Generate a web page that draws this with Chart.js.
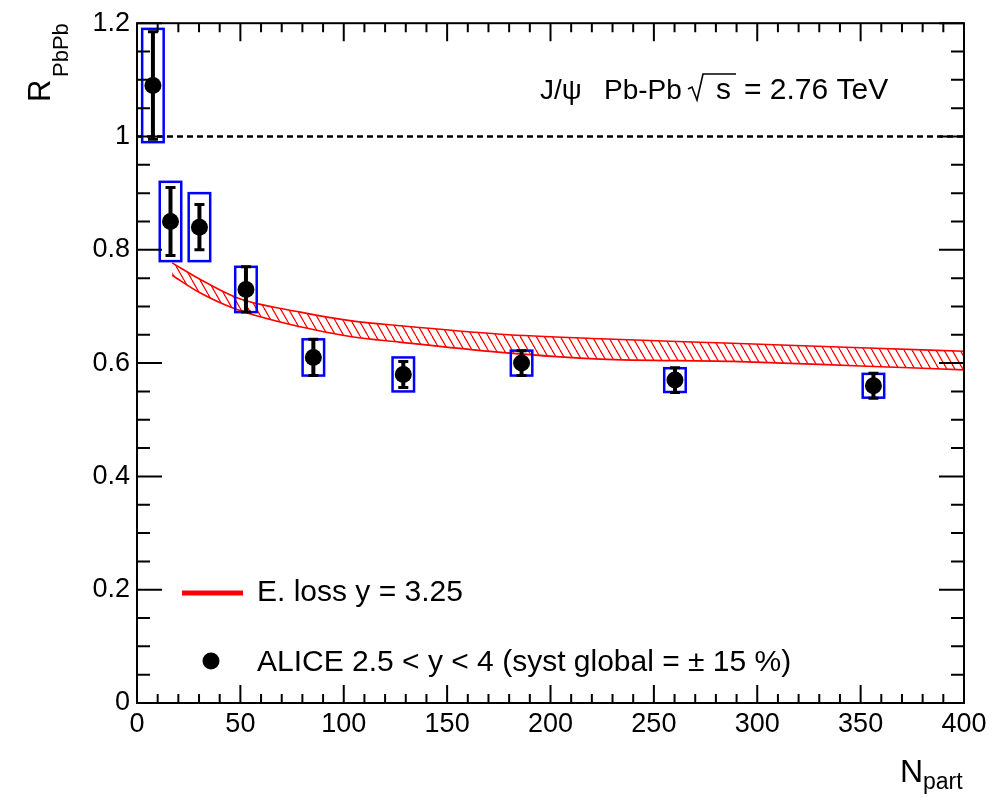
<!DOCTYPE html>
<html lang="en">
<head>
<meta charset="UTF-8">
<title>J/psi R_PbPb vs N_part</title>
<script src="https://cdn.jsdelivr.net/npm/chart.js"></script>
<style>
  body { margin: 0; background: #ffffff; }
  #wrap { width: 1002px; height: 797px; }
</style>
</head>
<body>
<div id="wrap"><canvas id="raaChart" width="1002" height="797"></canvas></div>
<script>
// ALICE J/psi points
const nPart   = [7.7, 16.2, 30.2, 52.7, 85.3, 128.8, 186, 260.2, 356.2];
const rPbPb   = [1.09, 0.85, 0.84, 0.73, 0.61, 0.58, 0.60, 0.57, 0.56];
const statErr = [0.095, 0.06, 0.04, 0.04, 0.032, 0.023, 0.022, 0.022, 0.022];
const systErr = [0.10, 0.07, 0.06, 0.04, 0.032, 0.03, 0.022, 0.021, 0.021];

// E. loss y = 3.25 band
const bandN    = [17, 30, 48, 79, 103, 127, 176, 224, 288, 350, 400];
const bandHigh = [0.777, 0.749, 0.716, 0.690, 0.675, 0.666, 0.651, 0.643, 0.635, 0.627, 0.621];
const bandLow  = [0.755, 0.725, 0.695, 0.664, 0.647, 0.637, 0.619, 0.607, 0.603, 0.595, 0.588];

// axes
const xTicks = [0, 50, 100, 150, 200, 250, 300, 350, 400];
const yTicks = [0, 0.2, 0.4, 0.6, 0.8, 1, 1.2];
const yTickLabels = ['0', '0.2', '0.4', '0.6', '0.8', '1', '1.2'];

const BOX_HALF = 5.2; // half width of syst boxes in N_part units
const FONT = '"Liberation Sans", Arial, sans-serif';

// diagonal red hatch for the band
function makeHatch() {
    const c = document.createElement('canvas');
    c.width = 8; c.height = 14;
    const g = c.getContext('2d');
    g.strokeStyle = '#ff0000';
    g.lineWidth = 1.2;
    for (const off of [-8, 0, 8]) {
        g.beginPath();
        g.moveTo(off, 0);
        g.lineTo(off + 8, 14);
        g.stroke();
    }
    return g.createPattern(c, 'repeat');
}

// syst boxes + stat error bars, drawn just under the markers
const errorPlugin = {
    id: 'errors',
    afterDatasetDraw(chart, args) {
        if (args.index !== 1) return;
        const ctx = chart.ctx;
        const xs = chart.scales.x, ys = chart.scales.y;
        ctx.save();
        nPart.forEach((n, i) => {
            const x0 = xs.getPixelForValue(n - BOX_HALF);
            const x1 = xs.getPixelForValue(n + BOX_HALF);
            const yt = ys.getPixelForValue(rPbPb[i] + systErr[i]);
            const yb = ys.getPixelForValue(rPbPb[i] - systErr[i]);
            ctx.strokeStyle = '#0000ff';
            ctx.lineWidth = 2.5;
            ctx.strokeRect(x0, yt, x1 - x0, yb - yt);

            const xc = xs.getPixelForValue(n);
            const st = ys.getPixelForValue(rPbPb[i] + statErr[i]);
            const sb = ys.getPixelForValue(rPbPb[i] - statErr[i]);
            ctx.strokeStyle = '#000000';
            ctx.lineWidth = 4;
            ctx.beginPath();
            ctx.moveTo(xc, st); ctx.lineTo(xc, sb);
            ctx.stroke();
            ctx.lineWidth = 3;
            ctx.beginPath();
            ctx.moveTo(xc - 5, st); ctx.lineTo(xc + 5, st);
            ctx.moveTo(xc - 5, sb); ctx.lineTo(xc + 5, sb);
            ctx.stroke();
        });
        ctx.restore();
    }
};

// ROOT style frame, inside ticks, labels and legend
const framePlugin = {
    id: 'frame',
    afterDraw(chart) {
        const ctx = chart.ctx;
        const a = chart.chartArea;
        const xs = chart.scales.x, ys = chart.scales.y;
        ctx.save();
        ctx.strokeStyle = '#000000';
        ctx.lineWidth = 2;
        ctx.strokeRect(a.left, a.top, a.right - a.left, a.bottom - a.top);

        ctx.beginPath();
        for (let v = 0; v <= 400; v += 10) {
            const px = xs.getPixelForValue(v);
            const len = (v % 50 === 0) ? 18 : 9;
            ctx.moveTo(px, a.bottom); ctx.lineTo(px, a.bottom - len);
            ctx.moveTo(px, a.top); ctx.lineTo(px, a.top + len);
        }
        for (let k = 0; k <= 24; k++) {
            const py = ys.getPixelForValue(k * 0.05);
            const len = (k % 4 === 0) ? 25 : 13;
            ctx.moveTo(a.left, py); ctx.lineTo(a.left + len, py);
            ctx.moveTo(a.right, py); ctx.lineTo(a.right - len, py);
        }
        ctx.stroke();

        ctx.fillStyle = '#000000';
        ctx.textBaseline = 'alphabetic';
        ctx.textAlign = 'left';

        // y title
        ctx.save();
        ctx.translate(50, 102);
        ctx.rotate(-Math.PI / 2);
        ctx.font = '31px ' + FONT;
        ctx.fillText('R', 0, 0);
        ctx.font = '22px ' + FONT;
        ctx.fillText('PbPb', 25, 18);
        ctx.restore();

        // x title
        ctx.font = '32px ' + FONT;
        ctx.fillText('N', 900, 782);
        ctx.font = '23px ' + FONT;
        ctx.fillText('part', 923, 789);

        // top label
        ctx.font = '28px ' + FONT;
        ctx.fillText('J/\u03C8', 540, 99);
        ctx.fillText('Pb-Pb', 604, 99);
        ctx.lineWidth = 1.6;
        ctx.beginPath();
        ctx.moveTo(688, 89); ctx.lineTo(692, 87);
        ctx.lineTo(697, 100); ctx.lineTo(703, 74); ctx.lineTo(736, 74);
        ctx.stroke();
        ctx.font = '30px ' + FONT;
        ctx.fillText('s', 716, 99);
        ctx.fillText('= 2.76 TeV', 744, 99);

        // legend
        ctx.strokeStyle = '#ff0000';
        ctx.lineWidth = 5;
        ctx.beginPath();
        ctx.moveTo(182, 593); ctx.lineTo(243, 593);
        ctx.stroke();
        ctx.font = '30px ' + FONT;
        ctx.fillText('E. loss y = 3.25', 257, 601);
        ctx.beginPath();
        ctx.arc(211, 661, 8.5, 0, Math.PI * 2);
        ctx.fill();
        ctx.fillText('ALICE 2.5 < y < 4 (syst global = \u00B1 15 %)', 257, 671);
        ctx.restore();
    }
};

const tickFont = { family: 'Liberation Sans', size: 27 };

new Chart(document.getElementById('raaChart').getContext('2d'), {
    type: 'scatter',
    data: {
        datasets: [
            {
                label: 'ALICE 2.5 < y < 4',
                data: nPart.map((n, i) => ({ x: n, y: rPbPb[i] })),
                pointRadius: 8.5,
                pointBackgroundColor: '#000000',
                pointBorderWidth: 0,
                showLine: false
            },
            {
                label: 'unity',
                data: [{ x: 0, y: 1 }, { x: 400, y: 1 }],
                showLine: true,
                borderColor: '#000000',
                borderWidth: 2.5,
                borderDash: [6, 4],
                pointRadius: 0
            },
            {
                label: 'E. loss high',
                data: bandN.map((n, i) => ({ x: n, y: bandHigh[i] })),
                showLine: true,
                borderColor: '#ff0000',
                borderWidth: 1.6,
                pointRadius: 0,
                cubicInterpolationMode: 'monotone',
                fill: false
            },
            {
                label: 'E. loss low',
                data: bandN.map((n, i) => ({ x: n, y: bandLow[i] })),
                showLine: true,
                borderColor: '#ff0000',
                borderWidth: 1.6,
                pointRadius: 0,
                cubicInterpolationMode: 'monotone',
                backgroundColor: makeHatch(),
                fill: '-1'
            }
        ]
    },
    options: {
        responsive: false,
        animation: false,
        devicePixelRatio: 1,
        layout: { padding: { top: 22, right: 38, left: 0, bottom: 0 } },
        plugins: {
            legend: { display: false },
            tooltip: { enabled: false }
        },
        scales: {
            x: {
                type: 'linear',
                min: 0,
                max: 400,
                afterBuildTicks: s => { s.ticks = xTicks.map(v => ({ value: v })); },
                afterFit: s => { s.height = 94; },
                grid: { display: false, drawTicks: false },
                border: { display: false },
                ticks: { font: tickFont, color: '#000000', padding: 5, maxRotation: 0, autoSkip: false }
            },
            y: {
                min: 0,
                max: 1.2,
                afterBuildTicks: s => { s.ticks = yTicks.map(v => ({ value: v })); },
                afterFit: s => { s.width = 137; },
                grid: { display: false, drawTicks: false },
                border: { display: false },
                ticks: {
                    font: tickFont,
                    color: '#000000',
                    padding: 7,
                    autoSkip: false,
                    callback: (v, i) => yTickLabels[i]
                }
            }
        }
    },
    plugins: [errorPlugin, framePlugin]
});
</script>
</body>
</html>
